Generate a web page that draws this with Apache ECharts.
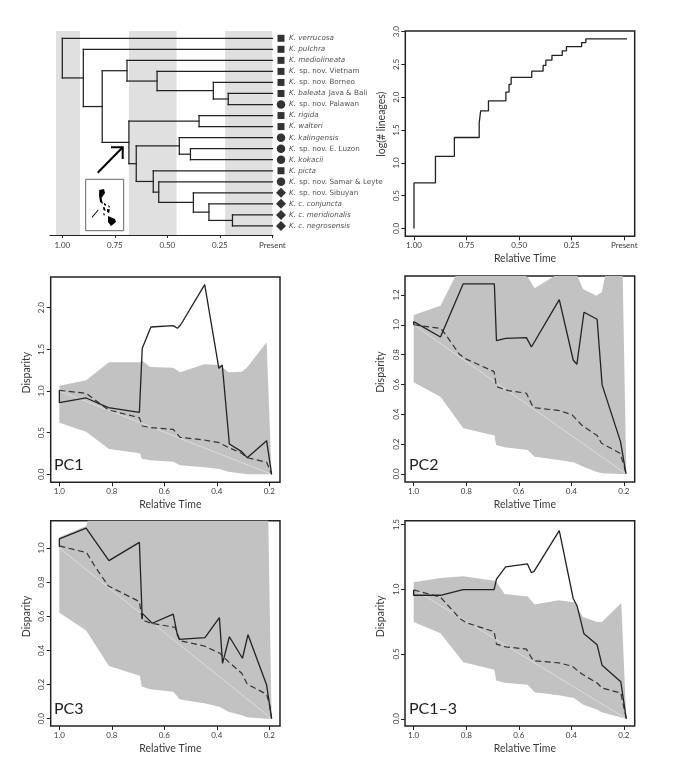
<!DOCTYPE html>
<html><head><meta charset="utf-8">
<style>html,body{margin:0;padding:0;background:#fff}#c{width:680px;height:781px}</style>
<script src="https://cdn.jsdelivr.net/npm/echarts@6/dist/echarts.min.js"></script>
</head><body><div id="c"></div>
<script>
const tipNames = [
 ['K. verrucosa',''],['K. pulchra',''],['K. mediolineata',''],['K.','sp. nov. Vietnam'],
 ['K.','sp. nov. Borneo'],['K. baleata','Java & Bali'],['K.','sp. nov. Palawan'],['K. rigida',''],
 ['K. walteri',''],['K. kalingensis',''],['K.','sp. nov. E. Luzon'],['K. kokacii',''],['K. picta',''],
 ['K.','sp. nov. Samar & Leyte'],['K.','sp. nov. Sibuyan'],['K. c. conjuncta',''],
 ['K. c. meridionalis',''],['K. c. negrosensis','']];
const tipShapes = ['s','s','s','s','s','s','c','s','s','c','c','c','s','c','d','d','d','d'];
const treeNodes = [1.0,0,[.90,1,[.81,
  [.692,2,[.549,3,[.281,4,[.21,5,6]]]],
  [.683,[.349,7,8],[.648,[.443,9,[.39,10,11]],
    [.567,12,[.541,13,[.376,14,[.302,15,[.19,16,17]]]]]]]]]];
const treeBands = [[1.03,.916],[.683,.456],[.225,0]];
const treeTicks = [1,.75,.5,.25,0];

const lttTime = [1,1,.898,.808,.690,.683,.646,.563,.548,.538,.440,.386,.373,.344,.295,.275,.203,.183,-.013];
const lttLog  = [0,.693,1.099,1.386,1.609,1.792,1.946,2.079,2.197,2.303,2.398,2.485,2.565,2.639,2.708,2.773,2.833,2.890,2.890];

const envTime = [1,.898,.811,.693,.686,.654,.566,.54,.448,.39,.356,.305,.284,.21,.191];

const pc1Upper = [1.064,1.13,1.344,1.344,1.37,1.288,1.28,1.224,1.32,1.312,1.224,1.232,1.284,1.584,0];
const pc1Lower = [.62,.512,.304,.252,.188,.168,.152,.108,.084,.064,.032,.01,0,0,0];
const pc1SolidT = [1,1,.898,.813,.695,.684,.651,.566,.55,.538,.446,.392,.379,.352,.305,.284,.21,.191];
const pc1SolidV = [1.008,.86,.916,.80,.744,1.512,1.768,1.784,1.752,1.792,2.276,1.272,1.312,.364,.272,.2,.404,0];
const pc1DashT = [1,.898,.864,.813,.695,.684,.651,.566,.54,.448,.392,.354,.305,.284,.21,.191];
const pc1DashV = [1.008,.972,.892,.772,.68,.58,.56,.54,.444,.412,.38,.32,.252,.2,.144,0];

const pc2Upper = [1.066,1.128,1.43,1.43,1.45,1.4,1.32,1.245,1.345,1.38,1.24,1.195,1.22,1.85,0];
const pc2Lower = [.615,.518,.306,.257,.194,.179,.161,.116,.094,.076,.05,.015,.004,0,0];
const pc2SolidT = [1,1,.898,.812,.693,.685,.65,.571,.552,.446,.393,.379,.352,.302,.283,.213,.192];
const pc2SolidV = [1,1.021,.918,1.274,1.274,.894,.909,.914,.851,1.169,.764,.735,1.084,1.037,.597,.217,0];
const pc2DashT = [1,.898,.882,.825,.80,.694,.685,.64,.571,.545,.446,.397,.361,.302,.285,.215,.2,.192];
const pc2DashV = [1,.976,.943,.80,.77,.686,.585,.559,.541,.445,.425,.396,.328,.257,.206,.139,.06,0];

const pc3Upper = [1.0625,1.129,1.6,1.6,1.6,1.55,1.5,1.45,1.5,1.5,1.45,1.45,1.45,1.75,0];
const pc3Lower = [.621,.516,.309,.252,.189,.172,.158,.113,.09,.07,.04,.02,.008,0,0];
const pc3SolidT = [1,1,.898,.811,.695,.684,.684,.646,.566,.55,.543,.445,.39,.378,.352,.302,.281,.21,.191];
const pc3SolidV = [1.008,1.053,1.117,.926,1.033,.582,.617,.559,.613,.49,.465,.475,.592,.324,.48,.354,.492,.197,0];
const pc3DashT = [1,.896,.864,.813,.695,.684,.651,.559,.54,.448,.388,.356,.305,.284,.21,.197,.191];
const pc3DashV = [1.012,.973,.891,.777,.686,.578,.559,.535,.457,.426,.383,.334,.266,.203,.143,.07,0];

const pc13Upper = [1.054,1.087,1.1,1.066,1.06,.964,.944,.883,.916,.9,.786,.75,.747,.895,0];
const pc13Lower = [.747,.66,.436,.378,.296,.278,.263,.204,.181,.161,.11,.074,.051,.01,0];
const pc13SolidT = [1,1,.898,.812,.694,.685,.65,.567,.552,.542,.446,.393,.378,.352,.302,.283,.212,.191];
const pc13SolidV = [.995,.954,.954,.997,.997,1.079,1.173,1.196,1.128,1.138,1.454,.929,.87,.656,.571,.413,.286,0];
const pc13DashT = [1,.898,.825,.80,.694,.685,.651,.571,.545,.446,.397,.361,.302,.283,.212,.191];
const pc13DashV = [.995,.939,.776,.742,.673,.577,.556,.538,.449,.431,.406,.347,.276,.237,.199,0];

const timeTicks = [1,.8,.6,.4,.2];
const panels = [
 {name:'PC1',upper:pc1Upper,lower:pc1Lower,st:pc1SolidT,sv:pc1SolidV,dt:pc1DashT,dv:pc1DashV,ticks:[0,.5,1,1.5,2],ymin:-.096,ymax:2.368,box:[50.7,277,229.3,205.3],lab:[54,467]},
 {name:'PC2',upper:pc2Upper,lower:pc2Lower,st:pc2SolidT,sv:pc2SolidV,dt:pc2DashT,dv:pc2DashV,ticks:[0,.2,.4,.6,.8,1,1.2],ymin:-.054,ymax:1.327,box:[405,276,229.7,206],lab:[409,467]},
 {name:'PC3',upper:pc3Upper,lower:pc3Lower,st:pc3SolidT,sv:pc3SolidV,dt:pc3DashT,dv:pc3DashV,ticks:[0,.2,.4,.6,.8,1],ymin:-.043,ymax:1.16,box:[50.7,520.7,229.3,205.3],lab:[54,711]},
 {name:'PC1\u20133',upper:pc13Upper,lower:pc13Lower,st:pc13SolidT,sv:pc13SolidV,dt:pc13DashT,dv:pc13DashV,ticks:[0,.5,1,1.5],ymin:-.056,ymax:1.53,box:[405,520.7,229.7,205.3],lab:[409,711]}
];

const INK='#222', TXT='#3a3a3a', FONT='Lato, "Open Sans", sans-serif';
const grid=[],xAxis=[],yAxis=[],series=[],graphic=[];
function zip(a,b){return a.map((v,i)=>[v,b[i]]);}
function frameAxes(box,xmin,xmax,xticks,xfmt,ymin,ymax,yticks,yfmt,yname,yshift){
  const g=grid.length;
  grid.push({left:box[0],top:box[1],width:box[2],height:box[3],show:true,borderColor:INK,borderWidth:1.5,backgroundColor:'transparent'});
  xAxis.push({gridIndex:g,type:'value',inverse:true,min:xmin,max:xmax,splitLine:{show:false},position:'bottom',
    axisLine:{show:false,onZero:false},axisTick:{show:true,length:4,lineStyle:{color:INK,width:1},customValues:xticks},
    axisLabel:{show:true,customValues:xticks,formatter:xfmt,fontSize:8,color:TXT,fontFamily:FONT,margin:5},
    name:'Relative Time',nameLocation:'middle',nameGap:17,nameTextStyle:{fontSize:10.5,color:TXT,fontFamily:FONT,padding:[0,0,0,10]}});
  yAxis.push({gridIndex:g,type:'value',min:ymin,max:ymax,splitLine:{show:false},position:'left',
    axisLine:{show:false,onZero:false},axisTick:{show:true,length:4,lineStyle:{color:INK,width:1},customValues:yticks},
    axisLabel:{show:true,customValues:yticks,formatter:yfmt,rotate:90,fontSize:8,color:TXT,fontFamily:FONT,margin:5},
    name:yname,nameLocation:'middle',nameGap:18.5,nameTextStyle:{fontSize:10.5,color:TXT,fontFamily:FONT,padding:[0,0,0,yshift]}});
  return g;
}

// ---------- Tree
const TREE=[50,31,223,204];
const segs=[];
function walk(node,t){
  if(typeof node==='number'){segs.push([t,node+1,0,node+1]);return node+1;}
  const ys=node.slice(1).map(c=>walk(c,node[0]));
  const y=(ys[0]+ys[ys.length-1])/2;
  segs.push([node[0],ys[0],node[0],ys[ys.length-1]]);
  if(t!=null)segs.push([t,y,node[0],y]);
  return y;
}
walk(treeNodes,null);
grid.push({left:TREE[0],top:TREE[1],width:TREE[2],height:TREE[3]});
xAxis.push({gridIndex:0,type:'value',inverse:true,min:-.003,max:1.0586,splitLine:{show:false},
  axisLine:{show:true,onZero:false,lineStyle:{color:INK,width:1.2}},
  axisTick:{show:true,length:3,lineStyle:{color:INK},customValues:treeTicks},
  axisLabel:{show:true,customValues:treeTicks,formatter:v=>v===0?'Present':v.toFixed(2),fontSize:8,color:TXT,fontFamily:FONT,margin:6}});
yAxis.push({gridIndex:0,type:'value',inverse:true,min:.34,max:18.82,show:false});
series.push({type:'custom',xAxisIndex:0,yAxisIndex:0,data:segs,silent:true,z:3,
  encode:{x:[0,2],y:[1,3]},
  renderItem:(p,api)=>{const a=api.coord([api.value(0),api.value(1)]),b=api.coord([api.value(2),api.value(3)]);
    return {type:'line',shape:{x1:a[0],y1:a[1],x2:b[0],y2:b[1]},style:{stroke:INK,lineWidth:1.25,lineCap:'square'}};},
  markArea:{silent:true,itemStyle:{color:'#e0e0e0'},z:1,data:treeBands.map(b=>[{xAxis:b[0]},{xAxis:b[1]}])}});

// ---------- Tip markers & labels
grid.push({left:273,top:TREE[1],width:107,height:TREE[3]});
xAxis.push({gridIndex:1,type:'value',min:0,max:107,show:false});
yAxis.push({gridIndex:1,type:'value',inverse:true,min:.34,max:18.82,show:false});
const SYM={s:['rect',7],c:['circle',8.5],d:['diamond',10]};
series.push({type:'scatter',xAxisIndex:1,yAxisIndex:1,silent:true,clip:false,
  data:tipNames.map((n,i)=>({value:[8,i+1],symbol:SYM[tipShapes[i]][0],symbolSize:SYM[tipShapes[i]][1],
    label:{formatter:'{i|'+n[0]+'}'+(n[1]?' {r|'+n[1]+'}':'')}})),
  itemStyle:{color:'#000'},
  label:{show:true,position:'inside',rich:{
    i:{fontStyle:'italic',fontSize:7.2,color:'#222',fontFamily:'"DejaVu Sans"'},
    r:{fontSize:7.2,color:'#222',fontFamily:'"DejaVu Sans"'}}},
  labelLayout:p=>({x:289,align:'left',verticalAlign:'middle'})});

// ---------- LTT
const lg=frameAxes([405.3,31,229.4,205.3],-.0495,1.0414,treeTicks,v=>v===0?'Present':v.toFixed(2),
  -.12,3.01,[0,.5,1,1.5,2,2.5,3],v=>v.toFixed(1),'log(# lineages)',19);
series.push({type:'line',xAxisIndex:lg,yAxisIndex:lg,step:'end',showSymbol:false,symbol:'none',silent:true,
  data:zip(lttTime,lttLog),lineStyle:{color:INK,width:1.3}});

// ---------- Disparity
panels.forEach(p=>{
  const g=frameAxes(p.box,.159,1.033,timeTicks,v=>v.toFixed(1),p.ymin,p.ymax,p.ticks,v=>v.toFixed(1),'Disparity',14);
  const base={type:'line',xAxisIndex:g,yAxisIndex:g,symbol:'none',showSymbol:false,silent:true,animation:false};
  series.push({type:'custom',xAxisIndex:g,yAxisIndex:g,silent:true,data:envTime.map((t,i)=>[t,p.lower[i],p.upper[i]]),
    encode:{x:0,y:[1,2]},
    renderItem:(params,api)=>{
      if(params.dataIndex!==0) return null;
      const pts=envTime.map((t,i)=>api.coord([t,p.upper[i]]))
        .concat(envTime.map((t,i)=>api.coord([t,p.lower[i]])).reverse());
      const c=params.coordSys;
      return {type:'polygon',shape:{points:pts},style:{fill:'#c2c2c2'},
        clipPath:{type:'rect',shape:{x:c.x,y:c.y,width:c.width,height:c.height}}};
    }});
  series.push({...base,data:[[1,1],[.191,0]],lineStyle:{color:'#dcdcdc',width:1}});
  series.push({...base,data:zip(p.dt,p.dv),lineStyle:{color:'#333',width:1.2,type:[6,3.5]}});
  series.push({...base,data:zip(p.st,p.sv),lineStyle:{color:INK,width:1.3}});
  graphic.push({type:'text',left:p.lab[0],top:p.lab[1]-10,z:20,style:{text:p.name,font:'16px Lato, sans-serif',fill:'#222'}});
});

// ---------- Arrow + inset map (annotations)
const ink={stroke:'#000',lineWidth:2,fill:null};
graphic.push({type:'polyline',z:20,shape:{points:[[97.7,172.7],[122.7,147.3]]},style:ink});
graphic.push({type:'polyline',z:20,shape:{points:[[111,147.3],[122.7,147.3],[122.7,159]]},style:ink});
graphic.push({type:'rect',z:20,shape:{x:85.7,y:179.3,width:38,height:51.4},style:{fill:'#fff',stroke:'#666',lineWidth:1}});
[
 [[99.3,190],[104,189],[105,193],[101.5,198],[103,204],[100,202],[99,195]],
 [[104,203],[106,204],[105.5,206],[104,205]],
 [[108,205],[110,206.5],[109,208]],
 [[103,207],[105,207.5],[105.5,211],[103.5,210]],
 [[107,209],[110,209.5],[109,213],[107,212]],
 [[103,213],[105,214],[104,216]],
 [[108,216],[115,219],[116,222],[111,226],[108,222]],
 [[91.7,217],[98,209.5],[98.5,210.2],[92.3,217.8]]
].forEach(pts=>graphic.push({type:'polygon',z:21,shape:{points:pts},style:{fill:'#000'}}));

echarts.init(document.getElementById('c')).setOption({animation:false,grid,xAxis,yAxis,series,graphic});
</script></body></html>
